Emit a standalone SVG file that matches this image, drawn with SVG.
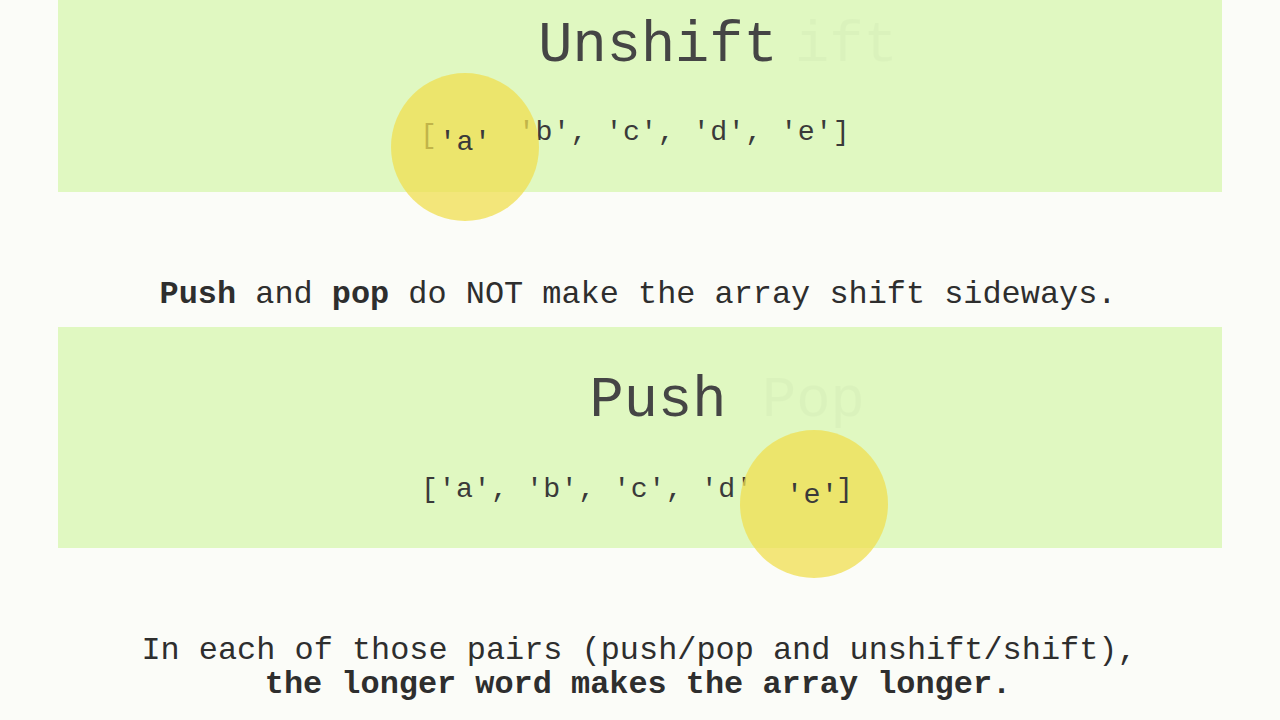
<svg xmlns="http://www.w3.org/2000/svg" width="1280" height="720" viewBox="0 0 1280 720">
<style>
.band{fill:#e0f8c1}
.mono{font-family:"Liberation Mono","Courier New",monospace;fill:#353535}
.title{font-size:57px;fill:#454545}
.arr{font-size:28.3px;fill:#3a3a3a;letter-spacing:0.5px}
.body{font-size:31.9px;fill:#2e2e2e}
.b{font-weight:bold}
.ghost{font-size:57px;fill:#c4dcaa;opacity:0.18}
.dot{fill:#f0df4e;opacity:0.74}
</style>
<rect x="0" y="0" width="1280" height="720" fill="#fbfcf8"/>
<g id="unshift-panel">
<rect class="band" x="58" y="0" width="1164" height="192"/>
<text class="mono title" x="658" y="61" text-anchor="middle">Unshift</text>
<text class="mono ghost" x="795" y="61">ift</text>
<text class="mono arr" x="420" y="143">[</text>
<text class="mono arr" x="518" y="140">'b', 'c', 'd', 'e']</text>
<circle class="dot" cx="465" cy="147" r="74"/>
<text class="mono arr" x="439" y="150">'a'</text>
</g>
<g id="middle-note">
<text class="mono body" x="638" y="303" text-anchor="middle"><tspan class="b">Push</tspan> and <tspan class="b">pop</tspan> do NOT make the array shift sideways.</text>
</g>
<g id="push-panel">
<rect class="band" x="58" y="327" width="1164" height="221"/>
<text class="mono title" x="658" y="416" text-anchor="middle">Push</text>
<text class="mono ghost" x="762" y="416">Pop</text>
<text class="mono arr" x="421" y="497">['a', 'b', 'c', 'd'</text>
<circle class="dot" cx="814" cy="504" r="74"/>
<text class="mono arr" x="786" y="503">'e'</text>
<text class="mono arr" x="836" y="497">]</text>
</g>
<g id="bottom-note">
<text class="mono body" x="639" y="659" text-anchor="middle">In each of those pairs (push/pop and unshift/shift),</text>
<text class="mono body b" x="638" y="693" text-anchor="middle">the longer word makes the array longer.</text>
</g>
<g id="connectors"/>
</svg>
